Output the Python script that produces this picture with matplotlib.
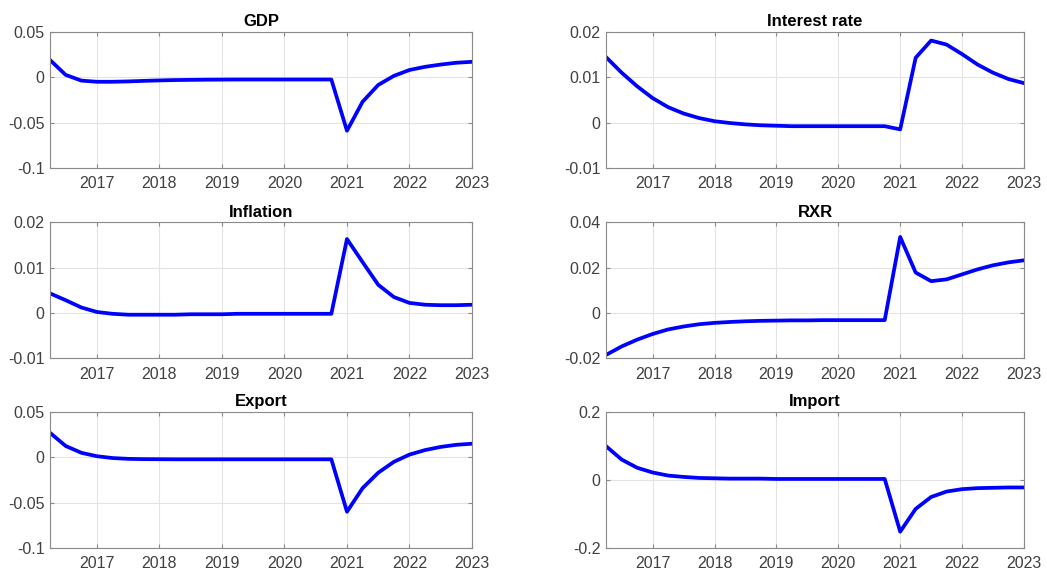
import numpy as np
import matplotlib
matplotlib.use("Agg")
import matplotlib.pyplot as plt

plt.rcParams['font.family'] = ['Liberation Sans', 'DejaVu Sans']
plt.rcParams['axes.unicode_minus'] = False

# quarterly dates, 2016Q2 .. 2023Q1
dates = np.arange(2016.25, 2023.01, 0.25)

gdp = [0.019, 0.0026, -0.0037, -0.0050, -0.0050, -0.0046, -0.0040, -0.0035,
       -0.0031, -0.0029, -0.0027, -0.0026, -0.0025, -0.0025, -0.0025, -0.0025,
       -0.0025, -0.0025, -0.0025, -0.059, -0.027, -0.0085, 0.0015, 0.008,
       0.0115, 0.014, 0.016, 0.017]
interest = [0.0144, 0.0110, 0.0080, 0.0054, 0.0034, 0.0020, 0.0010, 0.0003,
            -0.0001, -0.0004, -0.0006, -0.0007, -0.0008, -0.0008, -0.0008, -0.0008,
            -0.0008, -0.0008, -0.0008, -0.0015, 0.0143, 0.0181, 0.0172, 0.0151,
            0.0128, 0.0110, 0.0096, 0.0087]
inflation = [0.0043, 0.0028, 0.0012, 0.0002, -0.0002, -0.0004, -0.0004, -0.0004,
             -0.0004, -0.0003, -0.0003, -0.0003, -0.0002, -0.0002, -0.0002, -0.0002,
             -0.0002, -0.0002, -0.0002, 0.0163, 0.0112, 0.0062, 0.0035, 0.0022,
             0.0018, 0.0017, 0.0017, 0.0018]
rxr = [-0.0185, -0.0148, -0.0118, -0.0093, -0.0073, -0.0060, -0.0050, -0.0044,
       -0.0040, -0.0037, -0.0035, -0.0034, -0.0033, -0.0033, -0.0032, -0.0032,
       -0.0032, -0.0032, -0.0032, 0.0335, 0.0178, 0.0140, 0.0148, 0.0170,
       0.0192, 0.0210, 0.0223, 0.0232]
export = [0.027, 0.0125, 0.0050, 0.0012, -0.0008, -0.0017, -0.0020, -0.0021,
          -0.0022, -0.0022, -0.0022, -0.0022, -0.0022, -0.0022, -0.0022, -0.0022,
          -0.0022, -0.0022, -0.0022, -0.060, -0.034, -0.017, -0.005, 0.003,
          0.008, 0.0115, 0.0138, 0.015]
imports = [0.099, 0.060, 0.036, 0.022, 0.013, 0.009, 0.006, 0.005,
           0.004, 0.004, 0.004, 0.003, 0.003, 0.003, 0.003, 0.003,
           0.003, 0.003, 0.003, -0.152, -0.085, -0.050, -0.034, -0.027,
           -0.024, -0.023, -0.022, -0.022]

titles = ["GDP", "Interest rate", "Inflation", "RXR", "Export", "Import"]
series = [gdp, interest, inflation, rxr, export, imports]
ylims = [(-0.1, 0.05), (-0.01, 0.02), (-0.01, 0.02), (-0.02, 0.04), (-0.1, 0.05), (-0.2, 0.2)]
yticks = [[-0.1, -0.05, 0, 0.05], [-0.01, 0, 0.01, 0.02], [-0.01, 0, 0.01, 0.02],
          [-0.02, 0, 0.02, 0.04], [-0.1, -0.05, 0, 0.05], [-0.2, 0, 0.2]]
years = [2017, 2018, 2019, 2020, 2021, 2022, 2023]

fig = plt.figure(figsize=(10.47, 5.75), dpi=100)

lefts = [0.0478, 0.579]
widths = [0.403, 0.399]
bottoms = [0.708, 0.377, 0.047]
height = 0.2365

for i in range(6):
    row, col = i // 2, i % 2
    ax = fig.add_axes([lefts[col], bottoms[row], widths[col], height])
    ax.plot(dates, series[i], color='#0000ff', linewidth=2.7)
    ax.set_xlim(2016.25, 2023)
    ax.set_ylim(*ylims[i])
    ax.set_xticks(years)
    ax.set_xticklabels([str(y) for y in years])
    ax.set_yticks(yticks[i])
    ax.set_yticklabels(['{:g}'.format(v) for v in yticks[i]])
    ax.grid(True, color='#e3e3e3', linewidth=0.8)
    ax.set_axisbelow(True)
    ax.tick_params(direction='in', length=3, colors='#8a8a8a', labelcolor='#404040',
                   labelsize=11.5)
    ax.tick_params(axis='x', pad=6)
    ax.tick_params(axis='y', pad=4)
    ax.tick_params(top=True, right=True)
    for s in ax.spines.values():
        s.set_color('#8a8a8a')
        s.set_linewidth(0.8)
    ax.set_title(titles[i], fontsize=12, fontweight='bold', pad=4)

plt.savefig("out.png", dpi=100)
